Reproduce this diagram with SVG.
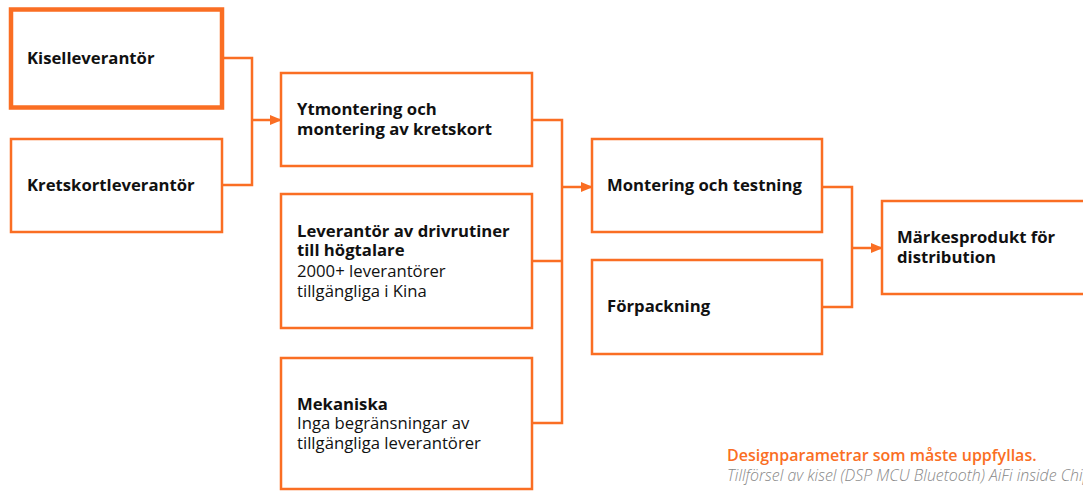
<svg xmlns="http://www.w3.org/2000/svg" width="1083" height="491" viewBox="0 0 1083 491">
<defs>
<marker id="arr" markerWidth="12" markerHeight="10" refX="11" refY="5" orient="auto" markerUnits="userSpaceOnUse">
<path d="M0,0 L12,5 L0,10 Z" fill="#FA6E23"/>
</marker>
<style>
.box{fill:#fff;stroke:#FA6E23;stroke-width:2.5}
.thick{stroke-width:4.5}
.con{fill:none;stroke:#FA6E23;stroke-width:2.5}
text{font-family:"Open Sans","Noto Sans","Liberation Sans",sans-serif;font-size:16.7px;fill:#111}
.b{font-weight:bold}
.o{fill:#FA6E23;font-weight:600;font-size:16px}
.i{font-style:italic;font-weight:300;fill:#888;font-size:15.9px}
</style>
</defs>
<rect width="1083" height="491" fill="#fff"/>
<g id="connectors">
<path class="con" d="M222,58 H252 V185 H222"/>
<path class="con" d="M252,120 H281" marker-end="url(#arr)"/>
<path class="con" d="M532,120 H562 V423 H532 M532,261 H562"/>
<path class="con" d="M562,187 H592" marker-end="url(#arr)"/>
<path class="con" d="M822,187 H852 V307 H822"/>
<path class="con" d="M852,248 H882" marker-end="url(#arr)"/>
</g>
<g id="kisel">
<rect class="box thick" x="11" y="9.5" width="211" height="98"/>
<text class="b" x="27" y="64">Kiselleverantör</text>
</g>
<g id="kretskort">
<rect class="box" x="11" y="139" width="211" height="93"/>
<text class="b" x="27" y="190.5">Kretskortleverantör</text>
</g>
<g id="ytmontering">
<rect class="box" x="281" y="73" width="251" height="93"/>
<text class="b" x="297" y="115">Ytmontering och</text>
<text class="b" x="297" y="134.5">montering av kretskort</text>
</g>
<g id="hogtalare">
<rect class="box" x="281" y="194" width="251" height="134"/>
<text class="b" x="297" y="236.5">Leverantör av drivrutiner</text>
<text class="b" x="297" y="256">till högtalare</text>
<text x="297" y="276.5">2000+ leverantörer</text>
<text x="297" y="296.5">tillgängliga i Kina</text>
</g>
<g id="mekaniska">
<rect class="box" x="281" y="358" width="251" height="131"/>
<text class="b" x="297" y="409.5">Mekaniska</text>
<text x="297" y="429">Inga begränsningar av</text>
<text x="297" y="448.5">tillgängliga leverantörer</text>
</g>
<g id="montering">
<rect class="box" x="592" y="139" width="230" height="93"/>
<text class="b" x="607" y="190.5">Montering och testning</text>
</g>
<g id="forpackning">
<rect class="box" x="592" y="260" width="230" height="94"/>
<text class="b" x="607" y="312">Förpackning</text>
</g>
<g id="markesprodukt">
<rect class="box" x="882" y="201" width="215" height="93"/>
<text class="b" x="897" y="243">Märkesprodukt för</text>
<text class="b" x="897" y="262.5">distribution</text>
</g>
<g id="note">
<text class="o" x="727" y="461">Designparametrar som måste uppfyllas.</text>
<text class="i" x="727" y="481">Tillförsel av kisel (DSP MCU Bluetooth) AiFi inside Chip</text>
</g>
</svg>
